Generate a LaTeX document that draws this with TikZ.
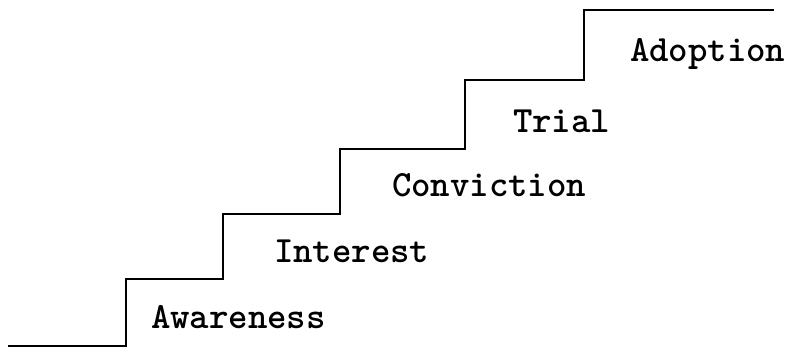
\documentclass[tikz,border=0pt]{standalone}
\usepackage{fontspec}
\usepackage{tikz}

\begin{document}
\begin{tikzpicture}[x=1pt, y=-1pt, line width=2pt,
  stage/.style={anchor=west, inner sep=0pt, font=\ttfamily\bfseries\fontsize{37}{40}\selectfont}]
\useasboundingbox (0,0) rectangle (792,347);

\draw (8,346) -- (126,346) -- (126,279) -- (223,279) -- (223,214)
  -- (340,214) -- (340,149) -- (465,149) -- (465,80) -- (584,80)
  -- (584,10) -- (774,10);

\node [stage] (aware) at (150,317) {Awareness};
\node [stage] (interest) at (273,251) {Interest};
\node [stage] (convict) at (391,185) {Conviction};
\node [stage] (trial) at (512,121) {Trial};
\node [stage] (adopt) at (629,54) {Adoption};
\end{tikzpicture}
\end{document}
